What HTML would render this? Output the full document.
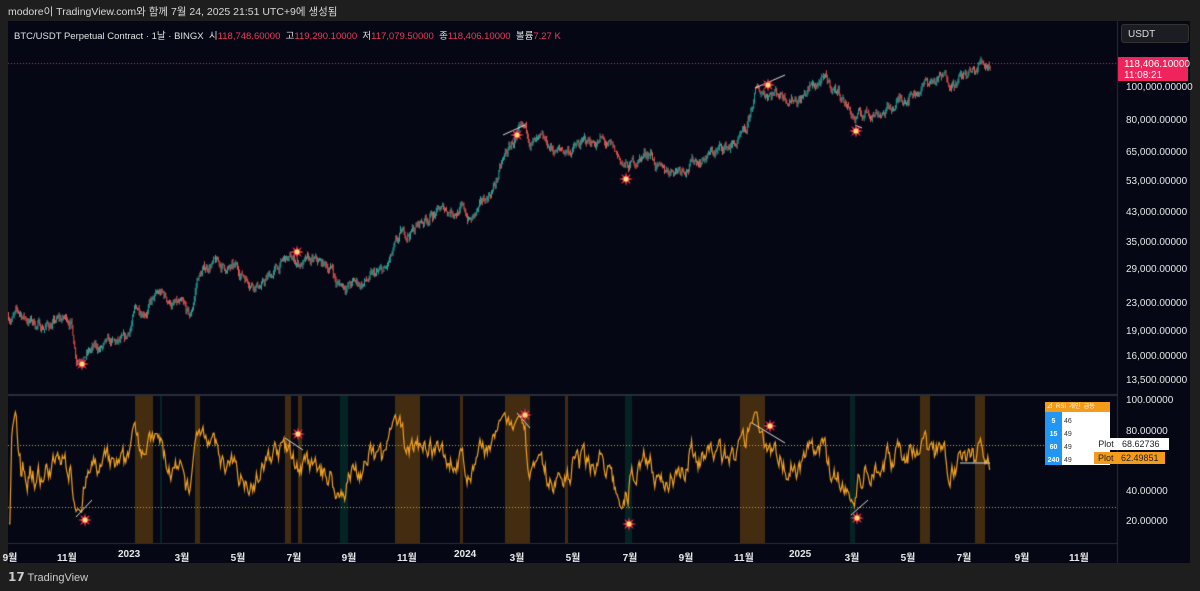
<!DOCTYPE html>
<html><head><meta charset="utf-8"><style>
body{margin:0;width:1200px;height:591px;background:#1e1e1e;overflow:hidden;font-family:"Liberation Sans","Noto Sans CJK KR",sans-serif;position:relative}
.a{position:absolute;white-space:nowrap}
#hdr{left:8px;top:4px;font-size:10.5px;color:#d8d8d8}
#panel{left:8px;top:21px;width:1182px;height:542px;background:#050814;position:absolute}
#legend{left:14px;top:28px;font-size:9.5px;color:#e0e0e0}
#legend span{color:#ef3a5a}
.pl{font-size:10px;color:#e8e8e8;left:1126px}
.tl{font-size:10px;color:#e8e8e8;top:549px;font-weight:bold}
canvas{position:absolute;left:0;top:0}
</style></head><body>
<div class="a" id="hdr">modore이 TradingView.com와 함께 7월 24, 2025 21:51 UTC+9에 생성됨</div>
<div id="panel"></div>
<canvas id="c" width="1200" height="591"></canvas>
<div class="a" id="legend">BTC/USDT Perpetual Contract · 1날 · BINGX &nbsp;시<span>118,748.60000</span> &nbsp;고<span>119,290.10000</span> &nbsp;저<span>117,079.50000</span> &nbsp;종<span>118,406.10000</span> &nbsp;볼륨<span>7.27 K</span></div>
<div class="a" style="left:1121px;top:24px;width:68px;height:19px;background:#1c1d22;border:1px solid #333;border-radius:3px;color:#ddd;font-size:10px;line-height:19px;padding-left:6px;box-sizing:border-box">USDT</div>
<div class="a" style="left:1118px;top:57px;width:70px;height:24px;background:#f0245c;color:#fff;font-size:10px;line-height:11px;padding:2px 0 0 6px;box-sizing:border-box">118,406.10000<br>11:08:21</div>
<div class="a pl" style="top:82px">100,000.00000</div>
<div class="a pl" style="top:115px">80,000.00000</div>
<div class="a pl" style="top:147px">65,000.00000</div>
<div class="a pl" style="top:176px">53,000.00000</div>
<div class="a pl" style="top:207px">43,000.00000</div>
<div class="a pl" style="top:237px">35,000.00000</div>
<div class="a pl" style="top:264px">29,000.00000</div>
<div class="a pl" style="top:298px">23,000.00000</div>
<div class="a pl" style="top:326px">19,000.00000</div>
<div class="a pl" style="top:351px">16,000.00000</div>
<div class="a pl" style="top:375px">13,500.00000</div>
<div class="a pl" style="top:395px">100.00000</div>
<div class="a pl" style="top:426px">80.00000</div>
<div class="a pl" style="top:486px">40.00000</div>
<div class="a pl" style="top:516px">20.00000</div>
<div class="a" style="left:1045px;top:402px;width:65px;height:10px;background:#f59b1a;font-size:6px;color:#fff;line-height:10px">&nbsp;⊿ &nbsp;RSI &nbsp;개인 &nbsp;급등</div>
<div class="a" style="left:1045px;top:412px;width:17px;height:53px;background:#2196f3"></div>
<div class="a" style="left:1062px;top:412px;width:48px;height:53px;background:#fff"></div>
<div class="a" style="left:1045px;top:415px;width:17px;text-align:center;font-size:7px;color:#fff;font-weight:bold;line-height:13px">5<br>15<br>60<br>240</div>
<div class="a" style="left:1064px;top:415px;font-size:7px;color:#333;line-height:13px">46<br>49<br>49<br>49</div>
<div class="a" style="left:1094px;top:438px;width:24px;height:12px;background:#fff;font-size:9px;color:#222;line-height:12px;text-align:center">Plot</div>
<div class="a" style="left:1118px;top:438px;width:47px;height:12px;background:#fff;font-size:9px;color:#222;line-height:12px;padding-left:4px">68.62736</div>
<div class="a" style="left:1094px;top:452px;width:71px;height:12px;background:#f59b1a;font-size:9px;color:#222;line-height:12px;padding-left:4px;box-sizing:border-box">Plot &nbsp;&nbsp;62.49851</div>
<div id="tl"></div>
<div class="a" style="left:8px;top:570px;font-size:11px;color:#ccc"><b style="font-size:12px">𝟭𝟳</b> TradingView</div>
<script>
const tls=[[10,"9월"],[65,"11월"],[126,"2023"],[182,"3월"],[238,"5월"],[294,"7월"],[349,"9월"],[405,"11월"],[462,"2024"],[517,"3월"],[573,"5월"],[630,"7월"],[686,"9월"],[742,"11월"],[797,"2025"],[852,"3월"],[908,"5월"],[964,"7월"],[1022,"9월"],[1077,"11월"]];
let h="";for(const [x,t] of tls)h+=`<div class="a tl" style="left:${x-8}px;width:16px;text-align:center">${t}</div>`;
document.getElementById("tl").outerHTML=h;
const c=document.getElementById("c").getContext("2d");
c.fillStyle="#2a2e39";c.fillRect(1117,21,1,542);c.fillRect(8,394,1110,2);c.fillRect(8,543,1110,1);
const A=[[8,21000],[20,21000],[40,19500],[70,20500],[76,16000],[90,16500],[125,17000],[135,21500],[160,24000],[180,22000],[190,20000],[197,27000],[210,30000],[240,28000],[262,26000],[285,30500],[300,30000],[332,29000],[336,26000],[360,26000],[385,28000],[400,35000],[430,42000],[460,44000],[470,40000],[480,43000],[495,52000],[505,62000],[515,70000],[525,71000],[540,66000],[560,64000],[580,67000],[600,70000],[615,62000],[627,57000],[640,62000],[650,65000],[660,55000],[670,57000],[690,60000],[720,65000],[745,70000],[755,95000],[770,98000],[790,95000],[800,94000],[820,104000],[840,96000],[855,80000],[870,85000],[890,86000],[905,95000],[930,104000],[960,107000],[975,110000],[980,118000],[990,118400]];
function base(x){for(let i=0;i<A.length-1;i++){if(x<=A[i+1][0]){const t=(x-A[i][0])/(A[i+1][0]-A[i][0]);return Math.exp(Math.log(A[i][1])*(1-t)+Math.log(A[i+1][1])*t);}}return 118400;}
const Y=p=>87+146.3*Math.log(100000/p);
let s=7;const r=()=>{s=(s*16807)%2147483647;return s/2147483647;};
const ob=[[135,153],[195,200],[285,291],[395,420],[460,463],[505,530],[740,765],[920,930],[975,985],[298,302],[565,568]],gb=[[340,348],[625,632],[850,855],[160,162]];
c.fillStyle="rgba(255,152,0,0.25)";for(const[a,b]of ob)c.fillRect(a,396,b-a,147);
c.fillStyle="rgba(0,150,100,0.2)";for(const[a,b]of gb)c.fillRect(a,396,b-a,147);
c.strokeStyle="#c8a040";c.setLineDash([1,2]);c.lineWidth=1;
for(const y of [445.5,507.5]){c.beginPath();c.moveTo(8,y);c.lineTo(1117,y);c.stroke();}
c.strokeStyle="#f0245c";c.beginPath();c.moveTo(8,63.5);c.lineTo(1117,63.5);c.stroke();c.setLineDash([]);
let prev=base(8),noise=0;const closes=[];
for(let x=8;x<=990;x+=0.92){noise=noise*0.85+(r()-0.5)*0.06;const cl=base(x)*Math.exp(noise);const o=prev;
const hi=Math.max(o,cl)*(1+r()*0.025),lo=Math.min(o,cl)*(1-r()*0.025);
c.fillStyle=c.strokeStyle=cl>=o?"#26a69a":"#ef5350";
c.beginPath();c.moveTo(x+0.5,Y(hi));c.lineTo(x+0.5,Y(lo));c.stroke();
closes.push([x,cl]);prev=cl;}
let ag=0,al=0;c.strokeStyle="#f0a020";c.lineWidth=1.2;c.beginPath();
const ry=v=>400+(100-v)*1.51;
for(let i=1;i<closes.length;i++){const d=closes[i][1]/closes[i-1][1]-1;const g=Math.max(d,0),l=Math.max(-d,0);
ag=(ag*13+g)/14;al=(al*13+l)/14;let v=al==0?60:100-100/(1+ag/al);v=55+(v-50)*0.95;v=Math.max(18,Math.min(92,v));
const y=ry(v);if(i==1)c.moveTo(closes[i][0],y);else c.lineTo(closes[i][0],y);}
c.stroke();
c.strokeStyle="#ddd";c.lineWidth=1;
for(const [a,b,d,e] of [[76,517,92,500],[285,438,303,450],[517,413,530,428],[755,88,785,75],[855,125,862,128],[752,423,785,443],[851,515,868,500],[960,463,990,463],[503,135,525,125]]){c.beginPath();c.moveTo(a,b);c.lineTo(d,e);c.stroke();}
function star(x,y){c.beginPath();for(let i=0;i<16;i++){const R=i%2?3:7,t=i*Math.PI/8;c.lineTo(x+R*Math.cos(t),y+R*Math.sin(t));}c.closePath();c.fillStyle="#e8304a";c.fill();c.beginPath();c.arc(x,y,2.5,0,7);c.fillStyle="#ffe070";c.fill();}
for(const [x,y] of [[82,364],[297,252],[517,135],[626,179],[768,85],[856,131],[85,520],[298,434],[525,415],[629,524],[770,426],[857,518]])star(x,y);
</script>
</body></html>
